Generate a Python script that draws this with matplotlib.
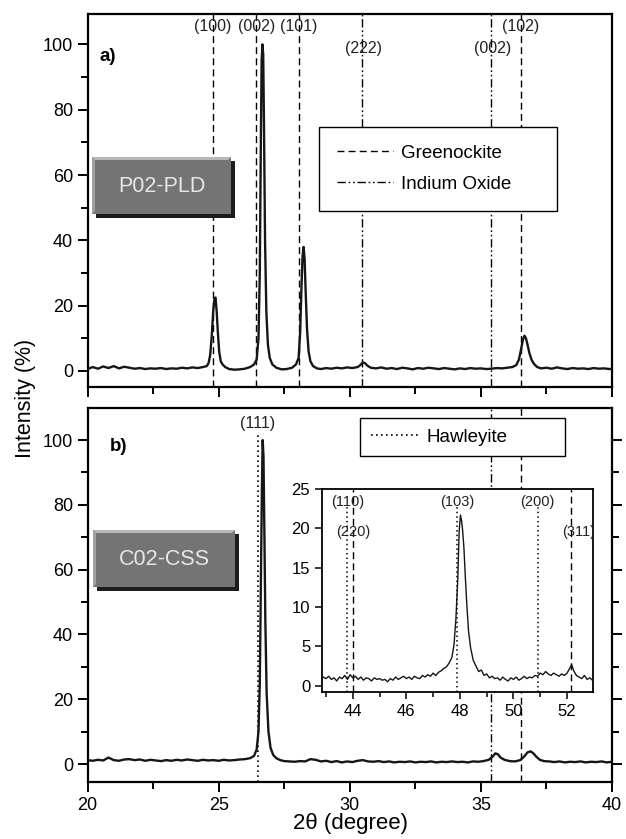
import numpy as np
import matplotlib
matplotlib.use("Agg")
import matplotlib.pyplot as plt
from matplotlib.lines import Line2D
from matplotlib.patches import Polygon, Rectangle
from matplotlib.ticker import MultipleLocator

plt.rcParams['font.family'] = ['Liberation Sans', 'DejaVu Sans']

# ---- panel a) P02-PLD pattern (2theta, intensity %) ----
two_theta_a = [20.0, 20.2, 20.4, 20.6, 20.8, 21.0, 21.2, 21.4, 21.6, 21.8, 22.0, 22.2, 22.4, 22.6,
               22.8, 23.0, 23.2, 23.4, 23.6, 23.8, 24.0, 24.2, 24.4,
               24.55, 24.62, 24.68, 24.74, 24.79, 24.84, 24.88, 24.92, 24.97, 25.02, 25.08, 25.15,
               25.25, 25.4, 25.6, 25.8, 26.0, 26.2, 26.35,
               26.45, 26.52, 26.57, 26.61, 26.64, 26.67, 26.7, 26.73, 26.77, 26.82, 26.88, 26.95,
               27.05, 27.2, 27.4, 27.6, 27.8, 27.95,
               28.05, 28.11, 28.16, 28.2, 28.24, 28.28, 28.32, 28.37, 28.43, 28.5, 28.6, 28.75,
               28.9, 29.1, 29.3, 29.5, 29.7, 29.9, 30.1, 30.3,
               30.4, 30.5, 30.58, 30.68, 30.8, 31.0, 31.2, 31.4, 31.6, 31.8, 32.0, 32.2, 32.4,
               32.6, 32.8, 33.0, 33.2, 33.4, 33.6, 33.8, 34.0, 34.2, 34.4, 34.6, 34.8, 35.0,
               35.2, 35.4, 35.6, 35.8, 36.0, 36.2, 36.35,
               36.45, 36.53, 36.6, 36.66, 36.72, 36.78, 36.85, 36.93, 37.02, 37.15, 37.3, 37.5,
               37.7, 37.9, 38.1, 38.3, 38.5, 38.7, 38.9, 39.1, 39.3, 39.5, 39.7, 39.9, 40.0]
intensity_a = [0.6, 1.2, 0.7, 1.4, 0.9, 1.5, 0.8, 1.3, 1.0, 0.7, 0.9, 0.6, 0.8, 0.7,
               0.9, 0.6, 0.8, 0.7, 1.0, 0.8, 1.1, 0.9, 1.2,
               1.5, 2.5, 5.0, 11.0, 18.0, 22.0, 22.5, 19.0, 12.0, 6.0, 3.0, 2.0,
               1.2, 0.6, 0.4, 0.5, 0.7, 1.2, 2.0,
               3.5, 10.0, 30.0, 70.0, 95.0, 100.0, 97.0, 75.0, 40.0, 18.0, 8.0, 4.0,
               2.0, 1.0, 0.5, 0.6, 1.0, 2.0,
               4.0, 12.0, 26.0, 35.0, 38.0, 34.0, 24.0, 13.0, 6.0, 3.0, 1.5, 0.8,
               0.6, 0.9, 0.7, 1.0, 0.8, 1.1, 0.9, 1.2,
               1.8, 2.6, 2.4, 1.6, 1.0, 0.8, 1.1, 0.7, 0.9, 0.6, 1.0, 0.8, 0.5,
               0.9, 0.7, 1.0, 0.8, 0.6, 0.9, 0.7, 0.5, 0.8, 0.6, 0.9, 0.7, 0.8,
               0.6, 0.7, 0.9, 0.8, 1.0, 1.2, 1.8,
               3.5, 6.5, 9.5, 10.8, 10.0, 8.0, 5.5, 3.5, 2.2, 1.2, 0.8, 1.0,
               0.7, 1.1, 0.8, 0.6, 0.9, 0.7, 0.8, 0.6, 0.9, 0.7, 0.8, 0.6, 0.7]

# reference lines, panel a
greenockite_pos = [24.77, 26.44, 28.06, 36.52]
greenockite_hkl = ["(100)", "(002)", "(101)", "(102)"]
indium_pos = [30.47, 35.4]
indium_hkl = ["(222)", "(002)"]

# ---- panel b) C02-CSS pattern ----
two_theta_b = [20.0, 20.2, 20.4, 20.6, 20.8, 21.0, 21.2, 21.4, 21.6, 21.8, 22.0, 22.2, 22.4, 22.6,
               22.8, 23.0, 23.2, 23.4, 23.6, 23.8, 24.0, 24.2, 24.4, 24.6, 24.8, 25.0, 25.2,
               25.4, 25.6, 25.8, 26.0, 26.2, 26.35, 26.45, 26.52, 26.57, 26.61, 26.65, 26.68,
               26.71, 26.74, 26.78, 26.83, 26.9, 26.98, 27.08, 27.2, 27.35, 27.5, 27.7, 27.9,
               28.1, 28.3, 28.5, 28.7, 28.9, 29.1, 29.3, 29.5, 29.7, 29.9, 30.1, 30.3, 30.5,
               30.7, 30.9, 31.1, 31.3, 31.5, 31.7, 31.9, 32.1, 32.3, 32.5, 32.7, 32.9, 33.1,
               33.3, 33.5, 33.7, 33.9, 34.1, 34.3, 34.5, 34.7, 34.9, 35.1, 35.3, 35.45, 35.55,
               35.65, 35.75, 35.9, 36.1, 36.3, 36.5, 36.65, 36.78, 36.9, 37.0, 37.12, 37.25,
               37.4, 37.6, 37.8, 38.0, 38.2, 38.4, 38.6, 38.8, 39.0, 39.2, 39.4, 39.6, 39.8, 40.0]
intensity_b = [1.2, 1.0, 1.3, 1.1, 2.0, 1.2, 1.0, 1.4, 1.5, 1.2, 1.4, 1.0, 1.3, 1.1,
               0.9, 1.2, 1.0, 1.3, 1.1, 1.4, 1.2, 1.0, 1.3, 1.1, 1.2, 1.0, 1.3,
               1.1, 1.2, 1.4, 1.5, 1.8, 2.5, 4.5, 10.0, 25.0, 55.0, 85.0, 100.0,
               95.0, 75.0, 45.0, 22.0, 10.0, 5.0, 2.8, 1.8, 1.2, 0.9, 0.8, 0.7,
               0.9, 0.8, 1.5, 1.3, 0.8, 1.0, 0.6, 0.9, 0.5, 0.8, 0.6, 1.0, 1.2,
               0.8, 0.7, 0.9, 0.6, 0.8, 0.5, 0.7, 0.6, 0.8, 0.5, 0.7, 0.6, 0.8,
               0.5, 0.7, 0.6, 0.8, 0.6, 0.7, 0.5, 0.8, 0.7, 0.9, 1.3, 2.3, 3.3,
               3.0, 2.0, 1.3, 0.9, 0.8, 1.2, 2.3, 3.6, 3.9, 3.3, 2.2, 1.3,
               0.9, 0.8, 0.6, 0.8, 0.5, 0.7, 0.6, 0.8, 0.5, 0.7, 0.6, 0.8, 0.5, 0.7]

hawleyite_pos = 26.5
hawleyite_hkl = "(111)"

# ---- inset of panel b) ----
two_theta_in = [42.8, 42.9, 43.0, 43.1, 43.2, 43.3, 43.4, 43.5, 43.6, 43.7, 43.8, 43.9, 44.0,
                44.1, 44.2, 44.3, 44.4, 44.5, 44.6, 44.7, 44.8, 44.9, 45.0, 45.1, 45.2, 45.3,
                45.4, 45.5, 45.6, 45.7, 45.8, 45.9, 46.0, 46.1, 46.2, 46.3, 46.4, 46.5, 46.6,
                46.7, 46.8, 46.9, 47.0, 47.1, 47.2, 47.3, 47.4, 47.5, 47.6, 47.7, 47.78, 47.85,
                47.92, 47.97, 48.02, 48.06, 48.1, 48.15, 48.2, 48.26, 48.32, 48.4, 48.5, 48.6,
                48.7, 48.8, 48.9, 49.0, 49.1, 49.2, 49.3, 49.4, 49.5, 49.6, 49.7, 49.8, 49.9,
                50.0, 50.1, 50.2, 50.3, 50.4, 50.5, 50.6, 50.7, 50.8, 50.9, 51.0, 51.1, 51.2,
                51.3, 51.4, 51.5, 51.6, 51.7, 51.8, 51.9, 52.0, 52.1, 52.17, 52.25, 52.35,
                52.45, 52.55, 52.65, 52.75, 52.85, 52.95, 53.0]
intensity_in = [0.7, 1.1, 0.9, 1.2, 0.8, 1.0, 0.6, 1.1, 0.9, 1.3, 0.8, 1.4, 1.0,
                1.2, 0.8, 1.1, 0.7, 1.0, 0.9, 0.6, 1.0, 0.8, 0.9, 0.7, 0.8, 0.5,
                0.9, 0.7, 1.1, 0.8, 1.0, 1.2, 0.9, 1.1, 0.8, 1.2, 1.0, 0.9, 1.3,
                1.1, 1.4, 1.2, 1.6, 1.3, 1.7, 1.9, 2.2, 2.4, 2.9, 3.6, 5.2, 8.5,
                13.5, 19.5, 21.7, 21.0, 19.8, 17.5, 14.0, 10.2, 7.0, 4.8, 3.2, 2.5,
                1.8, 2.0, 1.3, 1.5, 1.0, 1.2, 0.9, 1.0, 0.7, 1.1, 0.8, 0.6, 1.0,
                0.8, 1.1, 0.7, 0.9, 1.2, 0.9, 1.1, 1.0, 1.3, 1.2, 1.6, 1.4, 1.8,
                1.5, 1.3, 1.6, 1.4, 1.2, 1.5, 1.3, 1.6, 2.2, 2.7, 1.9, 1.3,
                1.1, 0.9, 1.3, 0.8, 1.0, 0.7, 0.6]

inset_dotted_pos = [43.8, 47.9, 50.9]
inset_dotted_hkl = ["(110)", "(103)", "(200)"]
inset_dashed_pos = [44.0, 52.15]
inset_dashed_hkl = ["(220)", "(311)"]

W, H = 626, 839
DASH = (0, (5, 3))
DASHDOTDOT = (0, (6, 2, 1.2, 2, 1.2, 2))
DOT = (0, (1, 2))
CURVE = '#161616'
LABEL_C = '#222222'


def px_axes(fig, x0, y0, x1, y1):
    # pixel box (top-left origin) -> figure axes
    return fig.add_axes([x0 / W, 1 - y1 / H, (x1 - x0) / W, (y1 - y0) / H])


def style_main(ax, right_ticks):
    for s in ax.spines.values():
        s.set_linewidth(1.6)
    ax.xaxis.set_major_locator(MultipleLocator(5))
    ax.xaxis.set_minor_locator(MultipleLocator(2.5))
    ax.yaxis.set_major_locator(MultipleLocator(20))
    ax.yaxis.set_minor_locator(MultipleLocator(10))
    ax.tick_params(which='both', direction='out', width=1.4, labelsize=13,
                   top=False, right=right_ticks)
    ax.tick_params(which='major', length=7)
    ax.tick_params(which='minor', length=5)


def button(ov, x0, y0, x1, y1, text):
    sh = 4
    ov.add_patch(Rectangle((x0 + sh, y0 + sh), x1 - x0 - sh, y1 - y0 - sh,
                           color='#1c1c1c', lw=0))
    ov.add_patch(Rectangle((x0, y0), x1 - x0 - sh, y1 - y0 - sh,
                           color='#747474', lw=0))
    b = 3
    ov.add_patch(Polygon([(x0, y0), (x1 - sh, y0), (x1 - sh - b, y0 + b), (x0 + b, y0 + b)],
                         closed=True, color='#b8b8b8', lw=0))
    ov.add_patch(Polygon([(x0, y0), (x0 + b, y0 + b), (x0 + b, y1 - sh - b), (x0, y1 - sh)],
                         closed=True, color='#a2a2a2', lw=0))
    ov.text((x0 + x1 - sh) / 2, (y0 + y1 - sh) / 2 + 1, text, color='#e6e6e6',
            fontsize=15.5, ha='center', va='center')


fig = plt.figure(figsize=(W / 100, H / 100), dpi=100)

# ---------------- panel a ----------------
ax1 = px_axes(fig, 87.5, 14, 612, 387)
ax1.plot(two_theta_a, intensity_a, color=CURVE, lw=1.7, zorder=3)
for x in greenockite_pos:
    ax1.axvline(x, color='k', ls=DASH, lw=1.0, zorder=2)
for x in indium_pos:
    ax1.axvline(x, color='k', ls=DASHDOTDOT, lw=1.0, zorder=2)
for x, lab in zip(greenockite_pos, greenockite_hkl):
    ax1.text(x, 105.5, lab, ha='center', va='center', fontsize=11.5, color=LABEL_C)
for x, lab in zip(indium_pos, indium_hkl):
    ax1.text(x + 0.05, 98.8, lab, ha='center', va='center', fontsize=11.5, color=LABEL_C)
ax1.set_xlim(20, 40)
ax1.set_ylim(-4.9, 109.3)
style_main(ax1, right_ticks=False)
ax1.tick_params(labelbottom=False)
ax1.text(0.023, 0.885, 'a)', transform=ax1.transAxes, fontsize=13.5, fontweight='bold',
         ha='left', va='center')
h_green = Line2D([], [], color='k', ls=DASH, lw=1.0)
h_in = Line2D([], [], color='k', ls=DASHDOTDOT, lw=1.0)
leg1 = ax1.legend([h_green, h_in], ['Greenockite', 'Indium Oxide'],
                  loc='upper left', bbox_to_anchor=(0.442, 0.0, 0.453, 0.698),
                  mode='expand', borderaxespad=0, fontsize=13.5, frameon=True,
                  fancybox=False, edgecolor='k', framealpha=1, borderpad=0.95,
                  labelspacing=0.75, handlelength=3.0, handletextpad=0.4)
leg1.get_frame().set_linewidth(1.0)

# ---------------- panel b ----------------
ax2 = px_axes(fig, 87.5, 408, 612, 782)
ax2.plot(two_theta_b, intensity_b, color=CURVE, lw=1.7, zorder=3)
ax2.plot([hawleyite_pos, hawleyite_pos], [-5.55, 101.5], color='k', ls=DOT, lw=1.2, zorder=2)
ax2.text(hawleyite_pos, 105, hawleyite_hkl, ha='center', va='center', fontsize=11.5,
         color=LABEL_C)
ax2.axvline(indium_pos[1], color='k', ls=DASHDOTDOT, lw=1.0, zorder=1)
ax2.axvline(greenockite_pos[3], color='k', ls=DASH, lw=1.0, zorder=1)
ax2.set_xlim(20, 40)
ax2.set_ylim(-5.55, 109.9)
style_main(ax2, right_ticks=True)
ax2.text(0.042, 0.898, 'b)', transform=ax2.transAxes, fontsize=13.5, fontweight='bold',
         ha='left', va='center')
h_haw = Line2D([], [], color='k', ls=DOT, lw=1.2)
leg2 = ax2.legend([h_haw], ['Hawleyite'], loc='upper left',
                  bbox_to_anchor=(0.52, 0.0, 0.39, 0.973), mode='expand',
                  borderaxespad=0, fontsize=13.5, frameon=True, fancybox=False,
                  edgecolor='k', framealpha=1, borderpad=0.55,
                  handlelength=2.6, handletextpad=0.4)
leg2.get_frame().set_linewidth(1.0)
leg2.set_zorder(5)

# ---------------- inset ----------------
axi = px_axes(fig, 322, 489, 593, 692)
axi.set_zorder(4)
axi.set_facecolor('white')
axi.plot(two_theta_in, intensity_in, color=CURVE, lw=1.0, zorder=3)
for x in inset_dotted_pos:
    axi.axvline(x, color='k', ls=DOT, lw=1.1, ymax=0.91, zorder=2)
for x in inset_dashed_pos:
    axi.axvline(x, color='k', ls=DASH, lw=1.0, zorder=2)
for x, lab in zip(inset_dotted_pos, inset_dotted_hkl):
    axi.text(x, 23.3, lab, ha='center', va='center', fontsize=10.5, color=LABEL_C)
axi.text(inset_dashed_pos[0], 19.5, inset_dashed_hkl[0], ha='center', va='center',
         fontsize=10.5, color=LABEL_C)
axi.text(52.45, 19.5, inset_dashed_hkl[1], ha='center', va='center', fontsize=10.5,
         color=LABEL_C)
axi.set_xlim(42.85, 52.97)
axi.set_ylim(-0.8, 25)
for s in axi.spines.values():
    s.set_linewidth(1.3)
axi.xaxis.set_major_locator(MultipleLocator(2))
axi.xaxis.set_minor_locator(MultipleLocator(1))
axi.yaxis.set_major_locator(MultipleLocator(5))
axi.tick_params(which='both', direction='out', width=1.1, labelsize=12)
axi.tick_params(which='major', length=5)
axi.tick_params(which='minor', length=3.5)

# ---------------- overlay: labels and buttons ----------------
ov = fig.add_axes([0, 0, 1, 1])
ov.set_xlim(0, W)
ov.set_ylim(H, 0)
ov.axis('off')
ov.set_zorder(10)
button(ov, 92, 157, 235, 218, 'P02-PLD')
button(ov, 93, 530, 239, 591, 'C02-CSS')

fig.text(26 / W, 1 - 398 / H, 'Intensity (%)', rotation=90, ha='center', va='center',
         fontsize=15.5)
fig.text(350 / W, 1 - 824 / H, '2\u03b8 (degree)', ha='center', va='center', fontsize=16)

fig.savefig('out.png', dpi=100)
